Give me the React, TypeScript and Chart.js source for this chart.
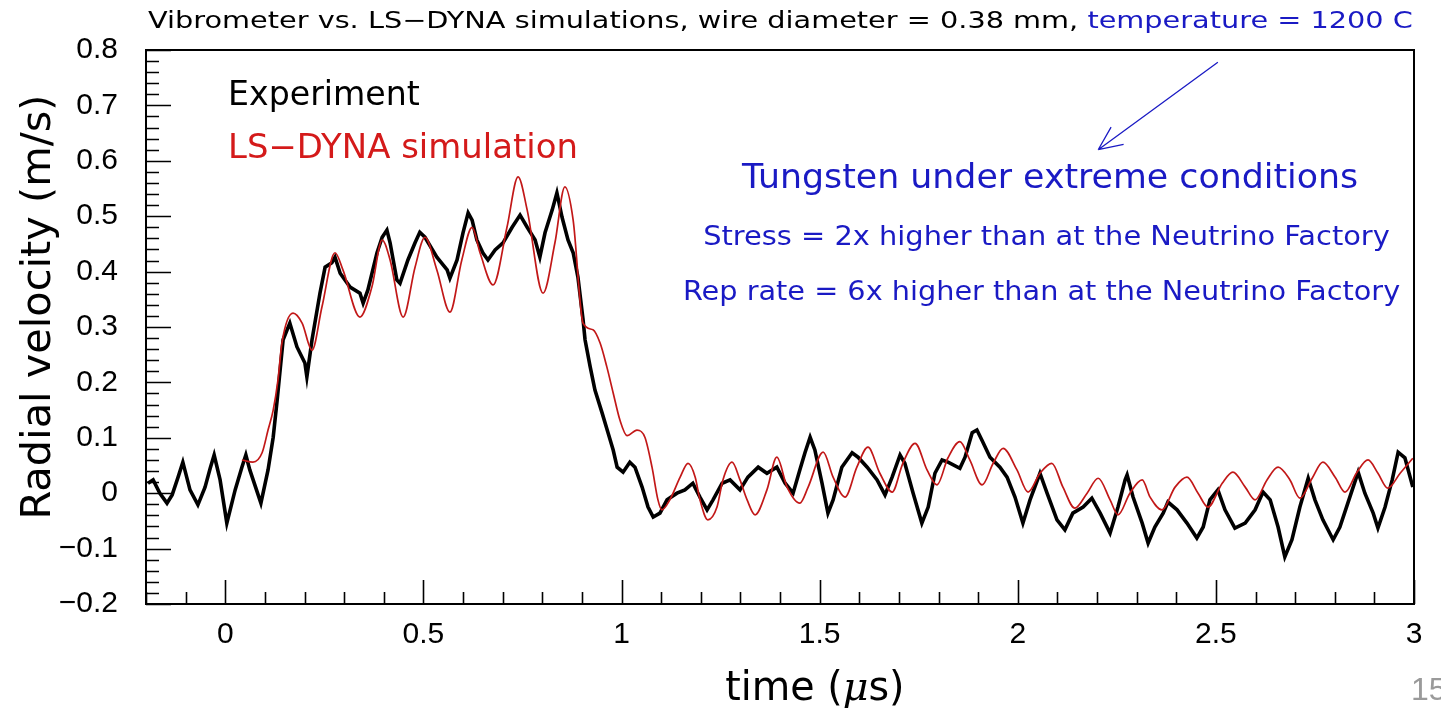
import React, { useEffect, useRef } from "react";
import { Chart, registerables } from "chart.js";

Chart.register(...registerables);

// ---- data (time in microseconds, radial velocity in m/s) ----
const expTime = [-0.195,-0.182,-0.165,-0.147,-0.134,-0.119,-0.107,-0.089,-0.069,-0.051,
-0.038,-0.028,-0.013,0.004,0.025,0.042,0.052,0.062,0.090,0.108,
0.121,0.131,0.146,0.163,0.181,0.201,0.206,0.219,0.239,0.252,
0.269,0.277,0.290,0.315,0.340,0.348,0.360,0.383,0.396,0.408,
0.416,0.433,0.441,0.461,0.479,0.491,0.504,0.534,0.560,0.567,
0.585,0.600,0.613,0.623,0.635,0.650,0.663,0.681,0.701,0.724,
0.744,0.762,0.782,0.794,0.807,0.825,0.837,0.850,0.865,0.878,
0.890,0.903,0.908,0.921,0.933,0.951,0.966,0.979,0.989,1.004,
1.021,1.034,1.052,1.067,1.080,1.097,1.115,1.140,1.160,1.180,
1.198,1.216,1.231,1.254,1.274,1.299,1.319,1.345,1.367,1.392,
1.413,1.433,1.450,1.463,1.476,1.488,1.506,1.521,1.534,1.556,
1.582,1.597,1.620,1.645,1.665,1.683,1.703,1.715,1.736,1.758,
1.774,1.791,1.809,1.824,1.854,1.867,1.885,1.897,1.910,1.930,
1.955,1.973,1.993,2.013,2.031,2.056,2.074,2.099,2.119,2.139,
2.165,2.187,2.208,2.233,2.253,2.271,2.276,2.291,2.314,2.329,
2.346,2.367,2.379,2.402,2.427,2.452,2.468,2.485,2.505,2.523,
2.548,2.574,2.599,2.619,2.637,2.657,2.674,2.692,2.712,2.733,
2.750,2.770,2.796,2.813,2.833,2.859,2.876,2.897,2.909,2.927,
2.945,2.960,2.977,2.997];

const expVelocity = [0.018,0.024,0.0,-0.018,-0.003,0.029,0.056,0.006,-0.021,0.011,
0.045,0.069,0.024,-0.054,0.006,0.047,0.069,0.042,-0.018,0.042,
0.101,0.168,0.277,0.307,0.264,0.235,0.210,0.277,0.361,0.408,
0.416,0.426,0.397,0.372,0.361,0.343,0.367,0.434,0.462,0.475,
0.452,0.385,0.379,0.421,0.452,0.471,0.462,0.426,0.403,0.388,
0.421,0.470,0.506,0.493,0.457,0.434,0.421,0.439,0.452,0.480,
0.502,0.480,0.457,0.426,0.470,0.511,0.542,0.498,0.457,0.434,
0.390,0.313,0.277,0.228,0.186,0.145,0.109,0.078,0.047,0.038,
0.056,0.047,0.011,-0.025,-0.043,-0.036,-0.012,0.0,0.006,0.018,
-0.007,-0.030,-0.012,0.018,0.024,0.006,0.029,0.047,0.036,0.047,
0.018,0.0,0.042,0.073,0.101,0.078,0.018,-0.036,-0.012,0.047,
0.073,0.065,0.047,0.024,-0.003,0.029,0.069,0.054,0.0,-0.054,
-0.025,0.036,0.060,0.056,0.045,0.065,0.109,0.114,0.095,0.065,
0.047,0.029,-0.007,-0.054,-0.012,0.036,0.0,-0.048,-0.066,-0.036,
-0.025,-0.009,-0.036,-0.072,-0.025,0.024,0.033,-0.007,-0.054,-0.090,
-0.061,-0.036,-0.016,-0.030,-0.054,-0.081,-0.061,-0.012,0.006,-0.030,
-0.063,-0.054,-0.030,0.002,-0.012,-0.061,-0.115,-0.084,-0.025,0.027,
-0.012,-0.048,-0.084,-0.061,-0.018,0.038,0.0,-0.036,-0.063,-0.025,
0.024,0.074,0.064,0.011];

const simTime = [0.042,0.070,0.093,0.108,0.121,0.133,0.143,0.171,0.194,0.219,
0.244,0.277,0.297,0.340,0.370,0.396,0.416,0.449,0.479,0.504,
0.534,0.567,0.597,0.623,0.643,0.676,0.711,0.739,0.762,0.802,
0.832,0.857,0.878,0.903,0.928,0.946,0.963,0.979,0.996,1.014,
1.039,1.059,1.077,1.092,1.102,1.122,1.148,1.168,1.186,1.198,
1.218,1.241,1.256,1.279,1.299,1.317,1.337,1.367,1.392,1.418,
1.450,1.471,1.509,1.534,1.564,1.594,1.622,1.652,1.683,1.710,
1.741,1.771,1.796,1.824,1.854,1.879,1.910,1.938,1.963,1.998,
2.026,2.056,2.086,2.114,2.144,2.175,2.203,2.233,2.253,2.283,
2.314,2.334,2.364,2.397,2.427,2.455,2.480,2.516,2.543,2.574,
2.599,2.629,2.657,2.687,2.712,2.743,2.770,2.801,2.826,2.856,
2.884,2.909,2.934,2.965,2.997];

const simVelocity = [0.060,0.056,0.073,0.114,0.150,0.204,0.271,0.325,0.307,0.258,
0.336,0.434,0.403,0.318,0.372,0.457,0.421,0.318,0.408,0.462,
0.403,0.327,0.421,0.480,0.434,0.376,0.480,0.571,0.511,0.361,
0.452,0.553,0.493,0.307,0.295,0.271,0.228,0.181,0.132,0.104,
0.114,0.101,0.047,-0.012,-0.030,-0.012,0.029,0.054,0.029,-0.012,
-0.048,-0.025,0.024,0.056,0.024,-0.012,-0.039,0.006,0.065,0.011,
-0.018,0.011,0.074,0.029,-0.007,0.047,0.083,0.036,0.002,0.054,
0.090,0.042,0.015,0.064,0.093,0.060,0.015,0.054,0.081,0.042,
0.002,0.036,0.054,0.011,-0.027,0.0,0.027,-0.012,-0.039,0.0,
0.024,-0.007,-0.030,0.011,0.029,0.0,-0.025,0.018,0.038,0.011,
-0.012,0.024,0.047,0.024,-0.009,0.027,0.056,0.029,0.002,0.038,
0.060,0.036,0.009,0.036,0.063];

const xTickValues = [0, 0.5, 1, 1.5, 2, 2.5, 3];
const xTickLabels = ["0", "0.5", "1", "1.5", "2", "2.5", "3"];
const yTickValues = [-0.2, -0.1, 0, 0.1, 0.2, 0.3, 0.4, 0.5, 0.6, 0.7, 0.8];
const yTickLabels = ["\u22120.2", "\u22120.1", "0", "0.1", "0.2", "0.3", "0.4", "0.5", "0.6", "0.7", "0.8"];

const X_MIN = -0.2, X_MAX = 3, Y_MIN = -0.2, Y_MAX = 0.8;

// ---- texts ----
const titleBlack = "Vibrometer vs. LS\u2212DYNA simulations, wire diameter = 0.38 mm, ";
const titleBlue = "temperature = 1200 C";
const legendExp = "Experiment";
const legendSim = "LS\u2212DYNA simulation";
const note1 = "Tungsten under extreme conditions";
const note2 = "Stress = 2x higher than at the Neutrino Factory";
const note3 = "Rep rate = 6x higher than at the Neutrino Factory";
const yTitle = "Radial velocity (m/s)";
const slideNo = "15";

// ---- styles ----
const BLUE = "#1a1ac4";
const RED_TEXT = "#d41a1a";
const RED_LINE = "#c21818";
const SANS = "'DejaVu Sans', sans-serif";

type Run = { text: string; color: string; font: string };

function drawRuns(ctx: CanvasRenderingContext2D, runs: Run[], x: number, y: number, width: number, align: "left" | "center") {
  let total = 0;
  for (const r of runs) { ctx.font = r.font; total += ctx.measureText(r.text).width; }
  const s = width > 0 ? width / total : 1;
  ctx.save();
  ctx.translate(x, y);
  ctx.scale(s, 1);
  let cx = align === "center" ? -total / 2 : 0;
  ctx.textAlign = "left";
  ctx.textBaseline = "middle";
  for (const r of runs) {
    ctx.font = r.font; ctx.fillStyle = r.color;
    ctx.fillText(r.text, cx, 0);
    cx += ctx.measureText(r.text).width;
  }
  ctx.restore();
}

const decorPlugin = {
  id: "decor",
  afterDatasetsDraw(chart: any) {
    const { ctx, chartArea: a } = chart;
    const xs = chart.scales.x, ys = chart.scales.y;
    const X = (v: number) => xs.getPixelForValue(v);
    const Y = (v: number) => ys.getPixelForValue(v);
    ctx.save();
    // ticks (inside)
    ctx.strokeStyle = "#000";
    ctx.lineWidth = 1.6;
    ctx.beginPath();
    for (let i = 0; ; i++) {
      const v = X_MIN + i * 0.1;
      if (v > X_MAX + 1e-9) break;
      const major = Math.abs(v * 2 - Math.round(v * 2)) < 1e-6;
      const px = Math.round(X(v)) + 0.5;
      ctx.moveTo(px, a.bottom);
      ctx.lineTo(px, a.bottom - (major ? 24 : 12));
    }
    for (let i = 0; ; i++) {
      const v = Y_MIN + i * 0.02;
      if (v > Y_MAX + 1e-9) break;
      const major = Math.abs(v * 10 - Math.round(v * 10)) < 1e-6;
      const py = Math.round(Y(v)) + 0.5;
      ctx.moveTo(a.left, py);
      ctx.lineTo(a.left + (major ? 25 : 13), py);
    }
    ctx.stroke();
    // frame
    ctx.lineWidth = 2;
    ctx.strokeRect(a.left, a.top, a.right - a.left, a.bottom - a.top);

    // title
    drawRuns(ctx, [
      { text: titleBlack, color: "#000", font: `23px ${SANS}` },
      { text: titleBlue, color: BLUE, font: `23px ${SANS}` },
    ], X(-0.195), Y(0.85), X(2.997) - X(-0.195), "left");

    // legend texts
    drawRuns(ctx, [{ text: legendExp, color: "#000", font: `33px ${SANS}` }], X(0.007), Y(0.716), X(0.491) - X(0.007), "left");
    drawRuns(ctx, [{ text: legendSim, color: RED_TEXT, font: `33px ${SANS}` }], X(0.007), Y(0.62), X(0.890) - X(0.007), "left");

    // blue notes
    drawRuns(ctx, [{ text: note1, color: BLUE, font: `33px ${SANS}` }], X(1.304), Y(0.566), X(2.859) - X(1.304), "left");
    drawRuns(ctx, [{ text: note2, color: BLUE, font: `26px ${SANS}` }], X(1.206), Y(0.460), X(2.939) - X(1.206), "left");
    drawRuns(ctx, [{ text: note3, color: BLUE, font: `26px ${SANS}` }], X(1.155), Y(0.361), X(2.965) - X(1.155), "left");

    // arrow
    const x1 = X(2.505), y1 = Y(0.778), x2 = X(2.203), y2 = Y(0.62);
    ctx.strokeStyle = BLUE;
    ctx.lineWidth = 1.3;
    ctx.beginPath();
    ctx.moveTo(x1, y1); ctx.lineTo(x2, y2);
    const ang = Math.atan2(y1 - y2, x1 - x2);
    const hl = 26;
    ctx.moveTo(x2, y2); ctx.lineTo(x2 + hl * Math.cos(ang - 0.42), y2 + hl * Math.sin(ang - 0.42));
    ctx.moveTo(x2, y2); ctx.lineTo(x2 + hl * Math.cos(ang + 0.42), y2 + hl * Math.sin(ang + 0.42));
    ctx.stroke();

    // axis titles
    ctx.save();
    ctx.translate(ys.left + 40, Y(0.336));
    ctx.rotate(-Math.PI / 2);
    drawRuns(ctx, [{ text: yTitle, color: "#000", font: `40px ${SANS}` }], 0, 0, 425, "center");
    ctx.restore();
    drawRuns(ctx, [
      { text: "time (", color: "#000", font: `40px ${SANS}` },
      { text: "\u03bc", color: "#000", font: `italic 40px 'DejaVu Serif', serif` },
      { text: "s)", color: "#000", font: `40px ${SANS}` },
    ], X(1.488), xs.bottom - 25, X(1.94) - X(1.488), "center");

    // slide number
    ctx.font = "32px 'Liberation Sans', sans-serif";
    ctx.fillStyle = "#9a9a9a";
    ctx.textAlign = "left";
    ctx.textBaseline = "middle";
    ctx.fillText(slideNo, chart.width - 30, xs.bottom - 24);
    ctx.restore();
  },
};

export default function App() {
  const ref = useRef<HTMLCanvasElement | null>(null);
  useEffect(() => {
    if (!ref.current) return;
    const chart = new Chart(ref.current, {
      type: "line",
      data: {
        datasets: [
          {
            label: "LS-DYNA simulation",
            data: simTime.map((t, i) => ({ x: t, y: simVelocity[i] })),
            borderColor: RED_LINE,
            borderWidth: 1.7,
            pointRadius: 0,
            cubicInterpolationMode: "monotone",
            fill: false,
          },
          {
            label: "Experiment",
            data: expTime.map((t, i) => ({ x: t, y: expVelocity[i] })),
            borderColor: "#000",
            borderWidth: 3.6,
            pointRadius: 0,
            tension: 0,
            fill: false,
          },
        ],
      },
      options: {
        animation: false,
        responsive: false,
        devicePixelRatio: 1,
        layout: { padding: { top: 50, right: 27, left: 0, bottom: 0 } },
        plugins: { legend: { display: false }, tooltip: { enabled: false }, title: { display: false } },
        scales: {
          x: {
            type: "linear",
            min: X_MIN,
            max: X_MAX,
            grid: { display: false, drawTicks: false },
            border: { display: false },
            afterBuildTicks: (s: any) => { s.ticks = xTickValues.map((v) => ({ value: v })); },
            afterFit: (s: any) => { s.height = 111; },
            ticks: {
              color: "#000",
              padding: 13,
              maxRotation: 0,
              autoSkip: false,
              font: { family: "'Liberation Sans', sans-serif", size: 30 },
              callback: (_v: any, i: number) => xTickLabels[i],
            },
          },
          y: {
            type: "linear",
            min: Y_MIN,
            max: Y_MAX,
            grid: { display: false, drawTicks: false },
            border: { display: false },
            afterBuildTicks: (s: any) => { s.ticks = yTickValues.map((v) => ({ value: v })); },
            afterFit: (s: any) => { s.width = 146; },
            ticks: {
              color: "#000",
              padding: 28,
              autoSkip: false,
              font: { family: "'Liberation Sans', sans-serif", size: 30 },
              callback: (_v: any, i: number) => yTickLabels[i],
            },
          },
        },
      },
      plugins: [decorPlugin],
    } as any);
    return () => chart.destroy();
  }, []);
  return (
    <div style={{ position: "absolute", left: 0, top: 0, width: 1441, height: 715, background: "#fff" }}>
      <canvas ref={ref} width={1441} height={715} style={{ width: 1441, height: 715, display: "block" }} />
    </div>
  );
}
